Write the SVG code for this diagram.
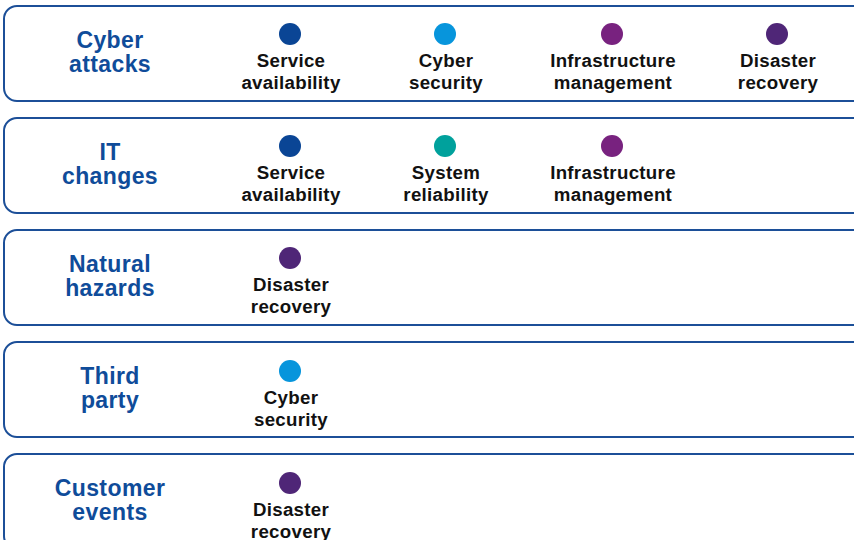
<svg xmlns="http://www.w3.org/2000/svg" width="854" height="540" viewBox="0 0 854 540">
  <style>
    .row { fill: #ffffff; stroke: #1c4f98; stroke-width: 2; }
    .title { font-family: "Liberation Sans", Arial, sans-serif; font-weight: bold; font-size: 23px; fill: #0f4c9a; text-anchor: middle; letter-spacing: 0.4px; }
    .lbl { font-family: "Liberation Sans", Arial, sans-serif; font-weight: bold; font-size: 18.7px; fill: #111111; text-anchor: middle; letter-spacing: 0.3px; }
    .svc { fill: #0a4595; }
    .cyb { fill: #0795dc; }
    .sys { fill: #00a19c; }
    .inf { fill: #78227f; }
    .dis { fill: #4f2677; }
  </style>
  <rect width="854" height="540" fill="#ffffff"/>

  <!-- Row: Cyber attacks -->
  <g id="cyber-attacks">
    <rect class="row" x="4" y="6" width="862" height="95" rx="13"/>
    <text class="title" x="110" y="48">Cyber</text>
    <text class="title" x="110" y="72">attacks</text>
    <circle class="svc" cx="290" cy="34" r="11"/>
    <text class="lbl" x="291" y="67">Service</text>
    <text class="lbl" x="291" y="89">availability</text>
    <circle class="cyb" cx="445" cy="34" r="11"/>
    <text class="lbl" x="446" y="67">Cyber</text>
    <text class="lbl" x="446" y="89">security</text>
    <circle class="inf" cx="612" cy="34" r="11"/>
    <text class="lbl" x="613" y="67">Infrastructure</text>
    <text class="lbl" x="613" y="89">management</text>
    <circle class="dis" cx="777" cy="34" r="11"/>
    <text class="lbl" x="778" y="67">Disaster</text>
    <text class="lbl" x="778" y="89">recovery</text>
  </g>

  <!-- Row: IT changes -->
  <g id="it-changes">
    <rect class="row" x="4" y="118" width="862" height="95" rx="13"/>
    <text class="title" x="110" y="160">IT</text>
    <text class="title" x="110" y="184">changes</text>
    <circle class="svc" cx="290" cy="146" r="11"/>
    <text class="lbl" x="291" y="179">Service</text>
    <text class="lbl" x="291" y="201">availability</text>
    <circle class="sys" cx="445" cy="146" r="11"/>
    <text class="lbl" x="446" y="179">System</text>
    <text class="lbl" x="446" y="201">reliability</text>
    <circle class="inf" cx="612" cy="146" r="11"/>
    <text class="lbl" x="613" y="179">Infrastructure</text>
    <text class="lbl" x="613" y="201">management</text>
  </g>

  <!-- Row: Natural hazards -->
  <g id="natural-hazards">
    <rect class="row" x="4" y="230" width="862" height="95" rx="13"/>
    <text class="title" x="110" y="272">Natural</text>
    <text class="title" x="110" y="296">hazards</text>
    <circle class="dis" cx="290" cy="258" r="11"/>
    <text class="lbl" x="291" y="291">Disaster</text>
    <text class="lbl" x="291" y="313">recovery</text>
  </g>

  <!-- Row: Third party -->
  <g id="third-party">
    <rect class="row" x="4" y="342" width="862" height="95" rx="13"/>
    <text class="title" x="110" y="384">Third</text>
    <text class="title" x="110" y="408">party</text>
    <circle class="cyb" cx="290" cy="371" r="11"/>
    <text class="lbl" x="291" y="404">Cyber</text>
    <text class="lbl" x="291" y="426">security</text>
  </g>

  <!-- Row: Customer events (runs past the lower edge) -->
  <g id="customer-events">
    <rect class="row" x="4" y="454" width="862" height="95" rx="13"/>
    <text class="title" x="110" y="496">Customer</text>
    <text class="title" x="110" y="520">events</text>
    <circle class="dis" cx="290" cy="483" r="11"/>
    <text class="lbl" x="291" y="516">Disaster</text>
    <text class="lbl" x="291" y="538">recovery</text>
  </g>

  <g id="connectors"/>
</svg>
